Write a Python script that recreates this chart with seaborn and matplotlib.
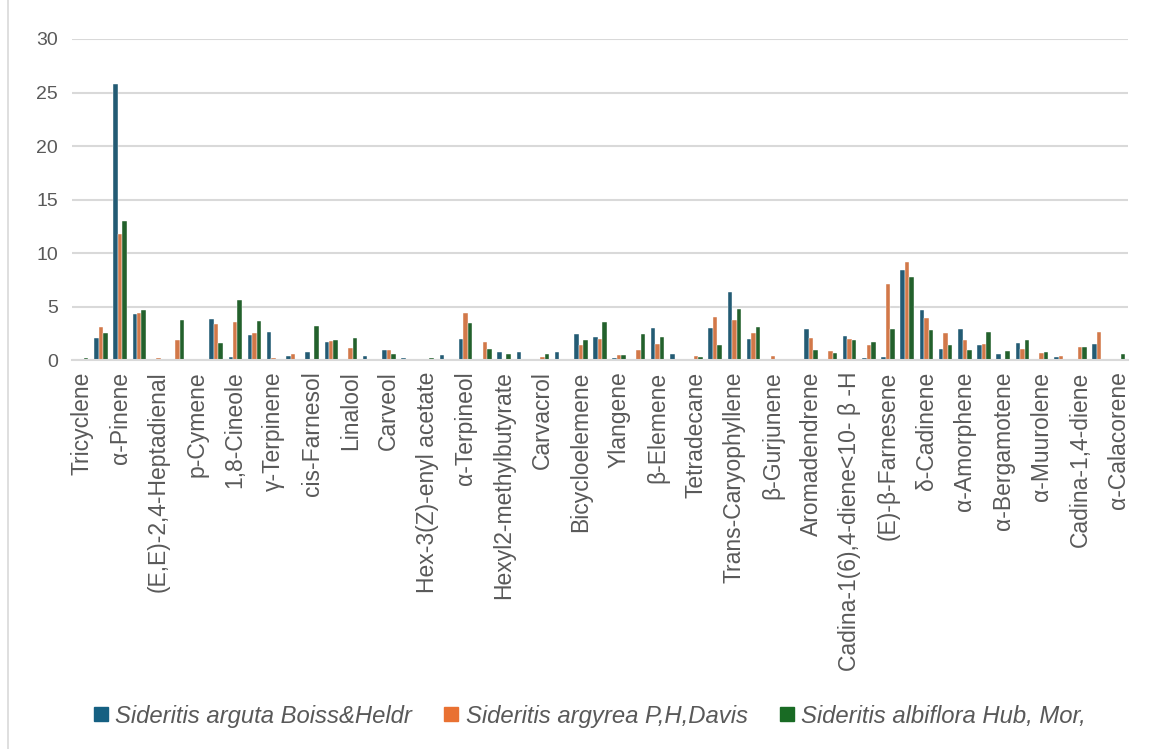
import pandas as pd
import seaborn as sns
import matplotlib.pyplot as plt
from matplotlib.lines import Line2D

# compounds in chart order; Excel only prints every other name,
# the hidden ones get placeholder names
compounds = [
    'Tricyclene', '(unlabelled 1)', 'α-Pinene', '(unlabelled 2)',
    '(E,E)-2,4-Heptadienal', '(unlabelled 3)', 'p-Cymene', '(unlabelled 4)',
    '1,8-Cineole', '(unlabelled 5)', 'γ-Terpinene', '(unlabelled 6)',
    'cis-Farnesol', '(unlabelled 7)', 'Linalool', '(unlabelled 8)',
    'Carveol', '(unlabelled 9)', 'Hex-3(Z)-enyl acetate', '(unlabelled 10)',
    'α-Terpineol', '(unlabelled 11)', 'Hexyl2-methylbutyrate', '(unlabelled 12)',
    'Carvacrol', '(unlabelled 13)', 'Bicycloelemene', '(unlabelled 14)',
    'Ylangene', '(unlabelled 15)', 'β-Elemene', '(unlabelled 16)',
    'Tetradecane', '(unlabelled 17)', 'Trans-Caryophyllene', '(unlabelled 18)',
    'β-Gurjunene', '(unlabelled 19)', 'Aromadendrene', '(unlabelled 20)',
    'Cadina-1(6),4-diene<10- β -H', '(unlabelled 21)', '(E)-β-Farnesene', '(unlabelled 22)',
    'δ-Cadinene', '(unlabelled 23)', 'α-Amorphene', '(unlabelled 24)',
    'α-Bergamotene', '(unlabelled 25)', 'α-Muurolene', '(unlabelled 26)',
    'Cadina-1,4-diene', '(unlabelled 27)', 'α-Calacorene',
]

species = ['Sideritis arguta Boiss&Heldr',
           'Sideritis argyrea P,H,Davis',
           'Sideritis albiflora Hub, Mor,']

arguta = [0, 2.1, 25.8, 4.3, 0, 0, 0.05, 3.87, 0.28, 2.34,
          2.66, 0.4, 0.78, 1.72, 0, 0.4, 0.97, 0.2, 0, 0.5,
          2.03, 0, 0.78, 0.78, 0, 0.8, 2.47, 2.19, 0.22, 0,
          3.06, 0.6, 0, 3.0, 6.37, 2.03, 0, 0, 2.9, 0,
          2.31, 0.22, 0.28, 8.48, 4.72, 1.03, 2.9, 1.41, 0.56, 1.59,
          0, 0.31, 0, 1.53, 0]

argyrea = [0, 3.1, 11.8, 4.45, 0.2, 1.95, 0.1, 3.44, 3.56, 2.53,
           0.19, 0.65, 0, 1.81, 1.15, 0, 0.94, 0, 0.05, 0,
           4.4, 1.69, 0.05, 0, 0.35, 0, 1.47, 2.0, 0.53, 1.0,
           1.53, 0, 0.44, 4.03, 3.75, 2.56, 0.44, 0, 2.12, 0.87,
           2.0, 1.41, 7.12, 9.2, 3.97, 2.56, 1.87, 1.53, 0, 1.03,
           0.66, 0.44, 1.22, 2.66, 0]

albiflora = [0.2, 2.55, 13.0, 4.7, 0, 3.8, 0, 1.62, 5.65, 3.66,
             0, 0, 3.22, 1.9, 2.1, 0, 0.56, 0, 0.25, 0,
             3.53, 1.1, 0.59, 0, 0.6, 0, 1.9, 3.59, 0.53, 2.44,
             2.16, 0, 0.34, 1.47, 4.78, 3.16, 0, 0.05, 0.97, 0.66,
             1.94, 1.69, 2.97, 7.8, 2.86, 1.47, 0.97, 2.69, 0.87, 1.87,
             0.78, 0, 1.28, 0.12, 0.56]

colors = ['#156082', '#E97132', '#196B24']

# long format for seaborn
rows = []
for sp, vals in zip(species, [arguta, argyrea, albiflora]):
    for c, v in zip(compounds, vals):
        rows.append({'compound': c, 'value': v, 'species': sp})
df = pd.DataFrame(rows)

sns.set_style('white')
plt.rcParams['font.family'] = ['Liberation Sans', 'DejaVu Sans']

fig = plt.figure(figsize=(11.51, 7.49), dpi=100)
ax = fig.add_axes([0.0626, 0.5187, 0.9174, 0.4293])

sns.barplot(data=df, x='compound', y='value', hue='species', order=compounds,
            hue_order=species, palette=colors, width=0.7, ax=ax,
            edgecolor='white', linewidth=0.3, legend=False)

ax.set_ylim(0, 30)
ax.set_yticks(range(0, 31, 5))
ax.yaxis.grid(True, color='#d9d9d9', linewidth=1.5)
ax.set_axisbelow(True)
for side in ['top', 'right', 'left']:
    ax.spines[side].set_visible(False)
ax.spines['bottom'].set_color('#d9d9d9')
ax.spines['bottom'].set_linewidth(1.5)

shown = list(range(0, len(compounds), 2))
ax.set_xticks(shown)
ax.set_xticklabels([compounds[i] for i in shown], rotation=90, fontsize=16.5,
                   color='#595959', va='top', ha='center')
ax.tick_params(axis='y', labelsize=14, labelcolor='#595959', length=0, pad=10)
ax.tick_params(axis='x', length=0, pad=8)
ax.set_xlabel('')
ax.set_ylabel('')

handles = [Line2D([0], [0], marker='s', linestyle='', markersize=10,
                  markerfacecolor=c, markeredgecolor=c) for c in colors]
fig.legend(handles, species, loc='center', bbox_to_anchor=(0.512, 0.044),
           ncol=3, frameon=False, handlelength=0.7, handletextpad=0.25,
           columnspacing=1.3, prop={'style': 'italic', 'size': 17.2},
           labelcolor='#595959')

# chart area border on the left
fig.add_artist(Line2D([0.007, 0.007], [0, 1], color='#d9d9d9', linewidth=1.2))

fig.savefig('out.png', dpi=100)
